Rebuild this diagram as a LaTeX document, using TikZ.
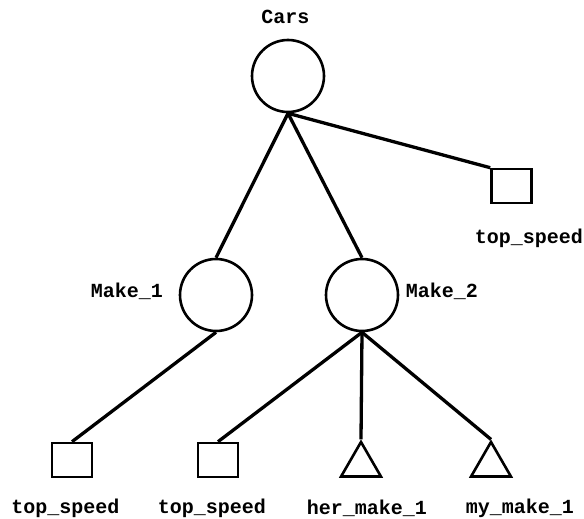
\documentclass[tikz,border=0pt]{standalone}
\usepackage{fontspec}
\setmonofont{Liberation Mono}
\usetikzlibrary{shapes.geometric}
\tikzset{
  obj/.style={circle,draw,line width=2.6pt,inner sep=0pt,minimum size=72pt},
  attr/.style={rectangle,draw,line width=2.6pt,inner sep=0pt,minimum width=40pt,minimum height=34pt},
  ref/.style={regular polygon,regular polygon sides=3,draw,line width=2.6pt,inner sep=0pt,minimum size=46pt},
  lbl/.style={font=\fontsize{20}{24}\selectfont\ttfamily\bfseries,inner sep=0pt},
  edge/.style={line width=3.3pt}
}
\begin{document}
\begin{tikzpicture}[x=1pt,y=-1pt]
                \useasboundingbox (0,0) rectangle (584,519);
                \node[obj] (cars) at (288,76) {};
                \node[obj] (make1) at (216,295) {};
                \node[obj] (make2) at (362,295) {};
                \node[attr] (speed0) at (511.5,186) {};
                \node[attr] (speed1) at (72,460) {};
                \node[attr] (speed2) at (218,460) {};
                \node[ref] (her) at (361,465) {};
                \node[ref] (my) at (491,465) {};
                % labels
                \node[lbl] (carslbl) at (285.5,17) {Cars};
                \node[lbl] (make1lbl) at (127,291) {Make\_1};
                \node[lbl] (make2lbl) at (442,291) {Make\_2};
                \node[lbl] (speed0lbl) at (529,238) {top\_speed};
                \node[lbl] (speed1lbl) at (65.5,508) {top\_speed};
                \node[lbl] (speed2lbl) at (212,508) {top\_speed};
                \node[lbl] (herlbl) at (367,508) {her\_make\_1};
                \node[lbl] (mylbl) at (520,508) {my\_make\_1};
                % connectors
                \draw[edge] (cars.south) -- (make1.north);
                \draw[edge] (cars.south) -- (make2.north);
                \draw[edge] (cars.south) -- (speed0.north west);
                \draw[edge] (make1.south) -- (speed1.north);
                \draw[edge] (make2.south) -- (speed2.north);
                \draw[edge] (make2.south) -- (her.north);
                \draw[edge] (make2.south) -- (my.north);
            \end{tikzpicture}
\end{document}
